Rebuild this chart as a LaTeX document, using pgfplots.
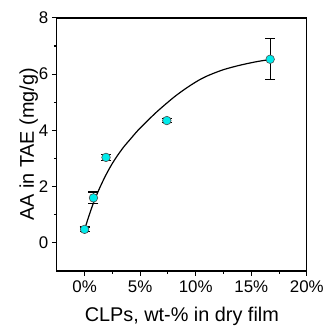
\documentclass[border=0pt]{standalone}
\usepackage{pgfplots}
\pgfplotsset{compat=1.18}
\usepackage{fontspec}
\setmainfont{Liberation Sans}
\definecolor{mcyan}{RGB}{0,235,235}
\begin{document}
\begin{tikzpicture}
\begin{axis}[
  scale only axis,
  width=251bp, height=254bp,
  xmin=-2.5, xmax=20, ymin=-1, ymax=8,
  xtick={0,5,10,15,20},
  xticklabels={0\%,5\%,10\%,15\%,20\%},
  ytick={0,2,4,6,8},
  minor x tick num=1, minor y tick num=1,
  tick pos=left, tick align=outside,
  major tick length=5bp, minor tick length=3bp,
  axis line style={line width=1.2bp},
  every tick/.style={line width=1.1bp, black},
  /pgf/number format/assume math mode=true,
  tick label style={font=\fontsize{17}{17}\selectfont},
  label style={font=\fontsize{20}{20}\selectfont},
  xlabel={CLPs, wt-\% in dry film},
  ylabel={AA in TAE (mg/g)},
  xticklabel style={yshift=-1bp},
  xlabel style={yshift=-8bp},
  ylabel style={yshift=-6bp},
]
\addplot[only marks, mark=*, mark size=4.3bp,
  mark options={fill=mcyan, draw=black!70, line width=0.6bp},
  error bars/.cd, y dir=both, y explicit,
  error bar style={line width=1.3bp, black},
  error mark options={rotate=90, line width=1.3bp, mark size=5bp, black}]
coordinates {
  (0,0.48) +- (0,0.08)
  (0.8,1.6) +- (0,0.21)
  (1.93,3.04) +- (0,0.1)
  (7.4,4.35) +- (0,0.07)
  (16.7,6.53) +- (0,0.73)
};
\addplot[smooth, line width=1.2bp, black] coordinates {
  (0,0.47) (0.4,0.97) (0.8,1.42) (1.3,1.9) (1.85,2.36) (2.4,2.76)
  (2.9,3.07) (3.5,3.40) (4.1,3.68) (4.8,4.0) (5.6,4.32) (6.5,4.66)
  (7.4,4.97) (8.1,5.2) (8.85,5.42) (9.6,5.62) (10.3,5.79) (11,5.93)
  (11.8,6.06) (12.5,6.16) (13.3,6.25) (14,6.32) (14.8,6.39)
  (15.7,6.46) (16.7,6.52)
};
\end{axis}
\path ([xshift=-57bp,yshift=-53bp]current axis.south west) rectangle ([xshift=21bp,yshift=18bp]current axis.north east);
\end{tikzpicture}
\end{document}
